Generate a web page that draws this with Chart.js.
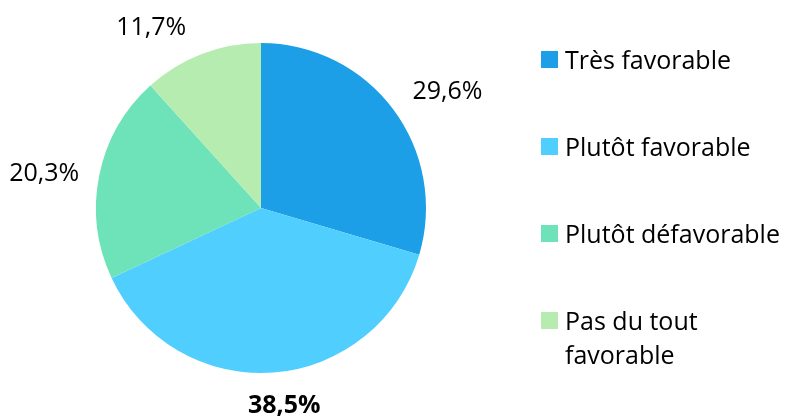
<!DOCTYPE html>
<html>
<head>
<meta charset="utf-8">
<script src="https://cdn.jsdelivr.net/npm/chart.js@4"></script>
<style>
  html, body { margin: 0; padding: 0; background: #fff; }
  #wrap { position: relative; width: 787px; height: 417px; }
  #legend { position: absolute; left: 541px; top: 42px; font-family: "Open Sans", Lato, sans-serif; font-size: 25px; color: #000; }
  .item { display: flex; align-items: flex-start; line-height: 34px; margin-bottom: 53px; }
  .box { width: 17px; height: 17px; margin-top: 9px; margin-right: 7px; flex: none; }
</style>
</head>
<body>
<div id="wrap">
  <canvas id="chart" width="787" height="417"></canvas>
  <div id="legend"></div>
</div>
<script>
const categories = ["Très favorable", "Plutôt favorable", "Plutôt défavorable", ["Pas du tout", "favorable"]];
const shares = [29.6, 38.5, 20.3, 11.7];
const colors = ["#1c9fe6", "#50cfff", "#6ee2b8", "#b6ecb0"];
// petit décalage manuel des étiquettes (comme dans le graphique d'origine)
const labelNudge = [[15, -2], [7, 8], [-7, 3], [-33, -3]];

const fmt = v => v.toFixed(1).replace(".", ",") + "%";

// étiquettes à l'extérieur de chaque part, calées sur l'angle médian
const outsideLabels = {
  id: "outsideLabels",
  afterDatasetsDraw(chart) {
    const ctx = chart.ctx;
    const meta = chart.getDatasetMeta(0);
    const max = Math.max(...shares);
    const gap = 14;
    ctx.save();
    ctx.fillStyle = "#000";
    ctx.textAlign = "center";
    ctx.textBaseline = "middle";
    meta.data.forEach((arc, i) => {
      const p = arc.getProps(["x", "y", "startAngle", "endAngle", "outerRadius"], true);
      const mid = (p.startAngle + p.endAngle) / 2;
      const cos = Math.cos(mid), sin = Math.sin(mid);
      const text = fmt(shares[i]);
      ctx.font = (shares[i] === max ? "bold " : "") + "25px 'Open Sans', Lato, sans-serif";
      const w = ctx.measureText(text).width, h = 22;
      const ax = p.x + (p.outerRadius + gap) * cos;
      const ay = p.y + (p.outerRadius + gap) * sin;
      ctx.fillText(text, ax + cos * w / 2 + labelNudge[i][0], ay + sin * h / 2 + labelNudge[i][1]);
    });
    ctx.restore();
  }
};

const chart = new Chart(document.getElementById("chart").getContext("2d"), {
  type: "pie",
  data: {
    labels: categories,
    datasets: [{ data: shares, backgroundColor: colors, borderWidth: 0, hoverOffset: 0, offset: 0 }]
  },
  options: {
    responsive: false,
    animation: false,
    layout: { padding: { left: 96, right: 361, top: 43, bottom: 44 } },
    plugins: { legend: { display: false }, tooltip: { enabled: false } }
  },
  plugins: [outsideLabels]
});

const legend = document.getElementById("legend");
categories.forEach((label, i) => {
  const item = document.createElement("div");
  item.className = "item";
  const box = document.createElement("span");
  box.className = "box";
  box.style.background = colors[i];
  const txt = document.createElement("span");
  txt.innerHTML = [].concat(label).join("<br>");
  item.appendChild(box);
  item.appendChild(txt);
  legend.appendChild(item);
});
</script>
</body>
</html>
